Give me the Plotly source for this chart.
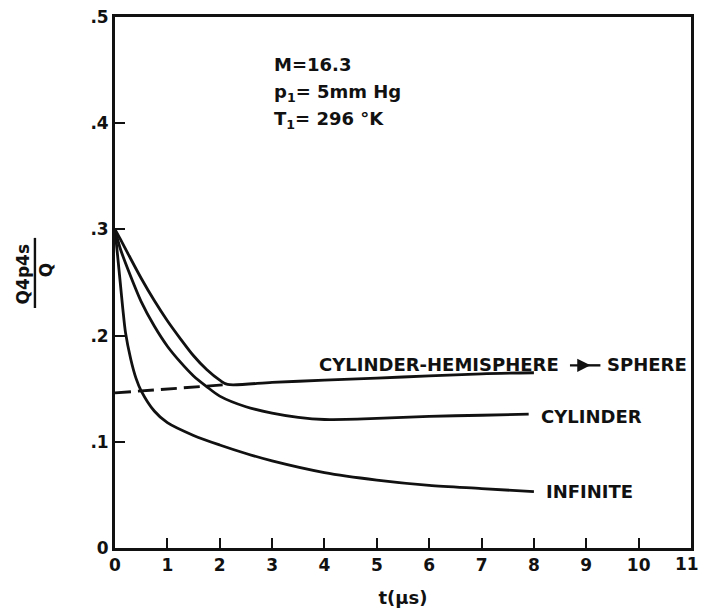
import plotly.graph_objects as go

# Decay of the ratio Q4p4s/Q with time for three body shapes
t_infinite = [0, 0.05, 0.1, 0.15, 0.2, 0.3, 0.4, 0.5, 0.75, 1.0, 1.5, 2.0, 2.5, 3.0, 4.0, 5.0, 6.0, 7.0, 8.0]
v_infinite = [0.300, 0.275, 0.250, 0.225, 0.203, 0.178, 0.160, 0.148, 0.129, 0.118, 0.106, 0.097, 0.089, 0.082, 0.071, 0.064, 0.059, 0.056, 0.053]

t_cylinder = [0, 0.1, 0.25, 0.5, 0.75, 1.0, 1.25, 1.5, 1.75, 2.0, 2.5, 3.0, 3.5, 4.0, 5.0, 6.0, 7.0, 7.9]
v_cylinder = [0.300, 0.282, 0.262, 0.232, 0.209, 0.190, 0.175, 0.162, 0.152, 0.143, 0.133, 0.127, 0.123, 0.121, 0.122, 0.124, 0.125, 0.126]

t_cyl_hemi = [0, 0.1, 0.25, 0.5, 0.75, 1.0, 1.25, 1.5, 1.75, 2.0, 2.15, 3.0, 4.0, 5.0, 6.0, 7.0, 8.0]
v_cyl_hemi = [0.300, 0.291, 0.277, 0.254, 0.233, 0.214, 0.197, 0.181, 0.168, 0.158, 0.154, 0.156, 0.158, 0.160, 0.162, 0.164, 0.165]

# Sphere asymptote extended back to t = 0
t_sphere = [0, 2.15]
v_sphere = [0.146, 0.154]

x_ticks = list(range(0, 12))
x_tick_text = [str(v) for v in x_ticks]
y_ticks = [0, 0.1, 0.2, 0.3, 0.4, 0.5]
y_tick_text = ["0", ".1", ".2", ".3", ".4", ".5"]

INK = "#111111"
FONT = "DejaVu Sans"

fig = go.Figure()
for tx, vy in [(t_infinite, v_infinite), (t_cylinder, v_cylinder), (t_cyl_hemi, v_cyl_hemi)]:
    fig.add_trace(go.Scatter(x=tx, y=vy, mode="lines",
                             line=dict(color=INK, width=2.8, shape="spline", smoothing=0.8),
                             hoverinfo="skip", showlegend=False))
fig.add_trace(go.Scatter(x=t_sphere, y=v_sphere, mode="lines",
                         line=dict(color=INK, width=2.8, dash="16px,7px"),
                         hoverinfo="skip", showlegend=False))

label_font = dict(family=FONT, size=18, color=INK)
ann = [
    dict(x=3.0, y=0.455, text="<b>M=16.3</b>"),
    dict(x=3.0, y=0.428, text="<b>p<sub>1</sub>= 5mm Hg</b>"),
    dict(x=3.0, y=0.403, text="<b>T<sub>1</sub>= 296 °K</b>"),
    dict(x=3.86, y=0.1725, text="<b>CYLINDER-HEMISPHERE</b>"),
    dict(x=9.36, y=0.1725, text="<b>SPHERE</b>"),
    dict(x=8.1, y=0.124, text="<b>CYLINDER</b>"),
    dict(x=8.19, y=0.053, text="<b>INFINITE</b>"),
]
for a in ann:
    fig.add_annotation(xref="x", yref="y", showarrow=False, xanchor="left", yanchor="middle",
                       font=label_font, **a)

# arrow between CYLINDER-HEMISPHERE and SPHERE
fig.add_annotation(xref="x", yref="y", axref="x", ayref="y",
                   x=9.08, y=0.172, ax=8.66, ay=0.172, text="",
                   showarrow=True, arrowhead=2, arrowsize=1.1, arrowwidth=2.4,
                   arrowcolor=INK)
fig.add_shape(type="line", xref="x", yref="y", x0=9.0, x1=9.27, y0=0.172, y1=0.172,
              line=dict(color=INK, width=2.4))

# y-axis title drawn as a fraction
fig.add_annotation(xref="paper", yref="paper", x=-0.160, y=0.515, text="<b>Q4p4s</b>",
                   xanchor="center", yanchor="middle", textangle=-90, showarrow=False,
                   font=dict(family=FONT, size=17, color=INK))
fig.add_annotation(xref="paper", yref="paper", x=-0.120, y=0.523, text="<b>Q</b>",
                   xanchor="center", yanchor="middle", textangle=-90, showarrow=False,
                   font=dict(family=FONT, size=17, color=INK))
fig.add_shape(type="line", xref="paper", yref="paper", x0=-0.139, x1=-0.139,
              y0=0.452, y1=0.584, line=dict(color=INK, width=2.4))

# the last x tick (at the right frame) is labelled by hand so it stays on the page
fig.add_annotation(xref="x", yref="paper", x=10.93, y=0, yshift=-16, text=f"<b>{x_tick_text[-1]}</b>",
                   xanchor="center", yanchor="middle", showarrow=False,
                   font=dict(family=FONT, size=17, color=INK))

axis_common = dict(showline=True, linecolor=INK, linewidth=2.8, mirror=True,
                   ticks="inside", ticklen=10, tickwidth=2, tickcolor=INK,
                   showgrid=False, zeroline=False, automargin=False,
                   tickfont=dict(family=FONT, size=17, color=INK))

fig.update_xaxes(range=[0, 11], tickvals=x_ticks[:-1],
                 ticktext=[f"<b>{s}</b>" for s in x_tick_text[:-1]],
                 title=dict(text="<b>t(μs)</b>", font=dict(family=FONT, size=18, color=INK),
                            standoff=18),
                 **axis_common)
fig.update_yaxes(range=[0, 0.5], tickvals=y_ticks, ticktext=[f"<b>{v}</b>" for v in y_tick_text],
                 **axis_common)

fig.update_layout(width=701, height=615, margin=dict(l=115, r=10, t=17, b=67),
                  paper_bgcolor="white", plot_bgcolor="white", showlegend=False)

fig.write_html("out.html")
